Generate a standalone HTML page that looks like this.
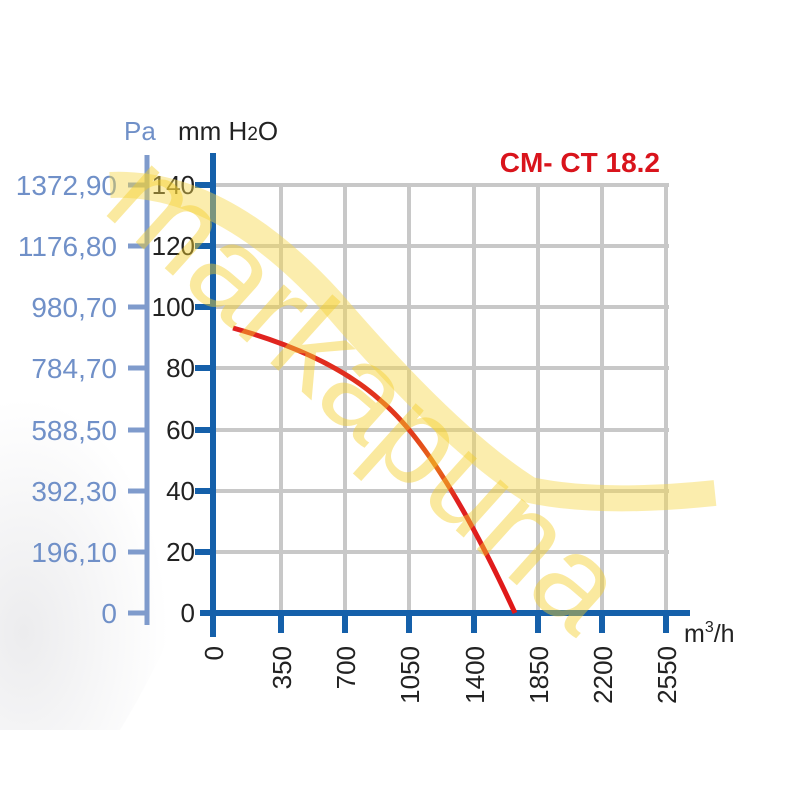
<!DOCTYPE html>
<html><head><meta charset="utf-8"><style>
html,body{margin:0;padding:0;background:#fff;}
svg{display:block;font-family:"Liberation Sans",Arial,sans-serif;}
</style></head><body>
<svg width="800" height="800" viewBox="0 0 800 800" xmlns="http://www.w3.org/2000/svg">
<defs>
<radialGradient id="bg" cx="0.1" cy="0.75" r="0.6">
<stop offset="0" stop-color="#ececee"/><stop offset="1" stop-color="#ffffff"/>
</radialGradient>
<linearGradient id="cg" x1="0" y1="0" x2="1" y2="1">
<stop offset="0" stop-color="#e02020"/><stop offset="0.5" stop-color="#e23a1c"/><stop offset="0.6" stop-color="#e8701a"/><stop offset="0.7" stop-color="#e02020"/><stop offset="1" stop-color="#e01818"/>
</linearGradient>
</defs>
<rect width="800" height="800" fill="#fff"/>
<path d="M0 360 Q140 300 240 420 Q200 600 120 730 L0 730 Z" fill="url(#bg)"/>
<g stroke="#c8c8c8" stroke-width="4">
<line x1="213" y1="185" x2="669" y2="185"/>
<line x1="213" y1="246" x2="669" y2="246"/>
<line x1="213" y1="307" x2="669" y2="307"/>
<line x1="213" y1="368" x2="669" y2="368"/>
<line x1="213" y1="430" x2="669" y2="430"/>
<line x1="213" y1="491" x2="669" y2="491"/>
<line x1="213" y1="552" x2="669" y2="552"/>
<line x1="281" y1="185" x2="281" y2="613"/>
<line x1="345" y1="185" x2="345" y2="613"/>
<line x1="409" y1="185" x2="409" y2="613"/>
<line x1="474" y1="185" x2="474" y2="613"/>
<line x1="538" y1="185" x2="538" y2="613"/>
<line x1="602" y1="185" x2="602" y2="613"/>
<line x1="666" y1="185" x2="666" y2="613"/>
</g>
<line x1="147" y1="155" x2="147" y2="625" stroke="#7f9bcc" stroke-width="5"/>
<g stroke="#7f9bcc" stroke-width="5">
<line x1="128" y1="185" x2="147" y2="185"/><line x1="128" y1="246" x2="147" y2="246"/><line x1="128" y1="307" x2="147" y2="307"/><line x1="128" y1="368" x2="147" y2="368"/><line x1="128" y1="430" x2="147" y2="430"/><line x1="128" y1="491" x2="147" y2="491"/><line x1="128" y1="552" x2="147" y2="552"/><line x1="128" y1="613" x2="147" y2="613"/>
</g>
<g fill="#7090c8" font-size="28" text-anchor="end">
<text x="117" y="195">1372,90</text><text x="117" y="256">1176,80</text><text x="117" y="317">980,70</text><text x="117" y="378">784,70</text><text x="117" y="440">588,50</text><text x="117" y="501">392,30</text><text x="117" y="562">196,10</text><text x="117" y="623">0</text>
</g>
<text x="124" y="140" fill="#7090c8" font-size="26">Pa</text>
<text x="178" y="140" fill="#222" font-size="26">mm H<tspan font-size="19">2</tspan>O</text>
<g stroke="#1560aa" stroke-width="6">
<line x1="213" y1="153" x2="213" y2="637"/>
<line x1="200" y1="613" x2="690" y2="613"/>
<line x1="195" y1="185" x2="213" y2="185"/><line x1="195" y1="246" x2="213" y2="246"/><line x1="195" y1="307" x2="213" y2="307"/><line x1="195" y1="368" x2="213" y2="368"/><line x1="195" y1="430" x2="213" y2="430"/><line x1="195" y1="491" x2="213" y2="491"/><line x1="195" y1="552" x2="213" y2="552"/>
<line x1="281" y1="613" x2="281" y2="633"/><line x1="345" y1="613" x2="345" y2="633"/><line x1="409" y1="613" x2="409" y2="633"/><line x1="474" y1="613" x2="474" y2="633"/><line x1="538" y1="613" x2="538" y2="633"/><line x1="602" y1="613" x2="602" y2="633"/><line x1="666" y1="613" x2="666" y2="633"/>
</g>
<g fill="#222" font-size="26" text-anchor="end">
<text x="195" y="194">140</text><text x="195" y="255">120</text><text x="195" y="316">100</text><text x="195" y="377">80</text><text x="195" y="439">60</text><text x="195" y="500">40</text><text x="195" y="561">20</text><text x="195" y="622">0</text>
</g>
<g fill="#222" font-size="26" text-anchor="end">
<text transform="translate(223,646) rotate(-90)">0</text>
<text transform="translate(291,646) rotate(-90)">350</text>
<text transform="translate(355,646) rotate(-90)">700</text>
<text transform="translate(419,646) rotate(-90)">1050</text>
<text transform="translate(484,646) rotate(-90)">1400</text>
<text transform="translate(548,646) rotate(-90)">1850</text>
<text transform="translate(612,646) rotate(-90)">2200</text>
<text transform="translate(676,646) rotate(-90)">2550</text>
</g>
<text x="684" y="642" fill="#222" font-size="25">m<tspan font-size="16" dy="-10">3</tspan><tspan dy="10">/h</tspan></text>
<text x="660" y="172" fill="#d9141c" font-size="28" font-weight="bold" text-anchor="end">CM- CT 18.2</text>
<path d="M233 328 Q330 355 380 400 Q440 450 515 613" fill="none" stroke="url(#cg)" stroke-width="5"/>
<path d="M110 185 Q220 180 330 300 Q450 440 530 490 Q600 505 715 493" fill="none" stroke="#f7d84a" stroke-opacity="0.45" stroke-width="26"/>
<text transform="translate(100,210) rotate(42)" fill="#f5cf2a" fill-opacity="0.45" font-size="128">markapuna</text>
</svg>
</body></html>
